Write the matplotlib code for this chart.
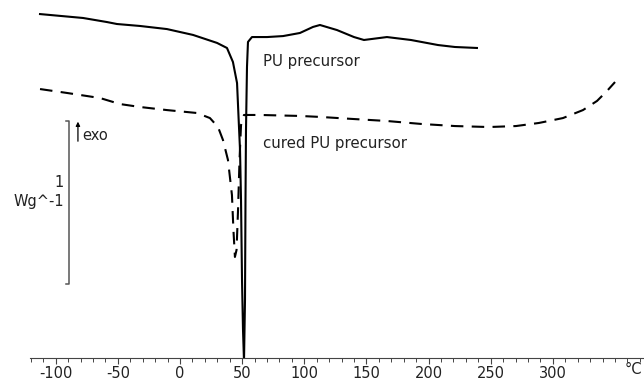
import matplotlib
matplotlib.use("Agg")
import matplotlib.pyplot as plt
from matplotlib.ticker import FixedLocator

# DSC traces, temperature in degC, heat flow in W/g (arbitrary offset)
t_pu = [-112.6, -78.0, -58.7, -50.7, -32.2, -10.5, 10.5, 29.8, 37.8, 42.6,
        45.9, 47.1, 48.3, 49.1, 49.9, 50.7, 51.5, 52.3, 52.7, 53.1, 53.9,
        54.7, 57.9, 70.0, 82.9, 96.5, 107.0, 112.6, 126.3, 140.0, 148.0,
        166.5, 185.8, 207.6, 221.2, 238.9]
hf_pu = [2.110, 2.086, 2.061, 2.049, 2.037, 2.018, 1.982, 1.933, 1.902, 1.816,
         1.687, 1.479, 1.276, 0.969, 0.479, 0.172, -0.02, 0.356, 0.969, 1.399,
         1.785, 1.939, 1.969, 1.969, 1.975, 1.994, 2.031, 2.043, 2.012, 1.969,
         1.951, 1.969, 1.951, 1.920, 1.908, 1.902]

t_cured = [-112.6, -90.9, -64.4, -48.3, -32.2, -10.5, 13.7, 24.1, 30.6, 34.6,
           38.6, 41.8, 43.0, 44.2, 45.5, 46.7, 47.9, 49.1, 51.5, 64.4, 96.5,
           112.6, 140.0, 166.5, 193.9, 221.2, 248.6, 270.3, 288.8, 308.1,
           324.2, 335.5, 343.5, 350.0]
hf_cured = [1.650, 1.626, 1.595, 1.558, 1.540, 1.521, 1.503, 1.472, 1.417, 1.337,
            1.215, 1.000, 0.785, 0.620, 0.663, 0.908, 1.215, 1.429, 1.491, 1.491,
            1.485, 1.479, 1.466, 1.454, 1.436, 1.423, 1.417, 1.423, 1.442, 1.472,
            1.521, 1.577, 1.638, 1.693]

x_ticks = [-100, -50, 0, 50, 100, 150, 200, 250, 300]
x_minor = list(range(-120, 371, 10))

fig = plt.figure(figsize=(6.44, 3.85), dpi=100)
ax = fig.add_axes([0, 1 - 358 / 385, 1, 358 / 385])
ax.set_xlim(-144.8, 373.3)
ax.set_ylim(0, 358 / 163)

ax.plot(t_pu, hf_pu, color="black", lw=1.5)
ax.plot(t_cured, hf_cured, color="black", lw=1.5, ls=(0, (6, 4)))

# scale bar 1 W/g
bx = -89.3
ax.plot([bx - 2.4, bx, bx, bx - 2.4], [1.454, 1.454, 0.454, 0.454],
        color="#555555", lw=1.1)
ax.text(bx - 4, 1.074, "1", ha="right", va="center", fontsize=10.5, color="#222222")
ax.text(bx - 4, 0.963, "Wg^-1", ha="right", va="center", fontsize=10.5, color="#222222")
ax.annotate("", xy=(-82.1, 1.45), xytext=(-82.1, 1.33),
            arrowprops=dict(arrowstyle="-|>", color="black", lw=0.9,
                            mutation_scale=6, shrinkA=0, shrinkB=0))
ax.text(-79.0, 1.362, "exo", ha="left", va="center", fontsize=10.5, color="#222222")

ax.text(66.8, 1.816, "PU precursor", ha="left", va="center", fontsize=10.8, color="#222222")
ax.text(66.8, 1.319, "cured PU precursor", ha="left", va="center", fontsize=10.8, color="#222222")

for s in ["top", "left", "right"]:
    ax.spines[s].set_visible(False)
ax.spines["bottom"].set_bounds(-121, 373)
ax.spines["bottom"].set_color("#444444")
ax.set_yticks([])
ax.set_xticks(x_ticks)
ax.set_xticklabels([str(v) for v in x_ticks])
ax.xaxis.set_minor_locator(FixedLocator(x_minor))
ax.tick_params(axis="x", which="major", length=4, width=0.8, color="#444444",
               labelsize=10.5, labelcolor="#222222", pad=2)
ax.tick_params(axis="x", which="minor", length=3, width=0.7, color="#444444")
ax.text(365, -0.025, "°C", ha="center", va="top", fontsize=10.5, color="#222222",
        clip_on=False)

fig.savefig("out.png", dpi=100)
